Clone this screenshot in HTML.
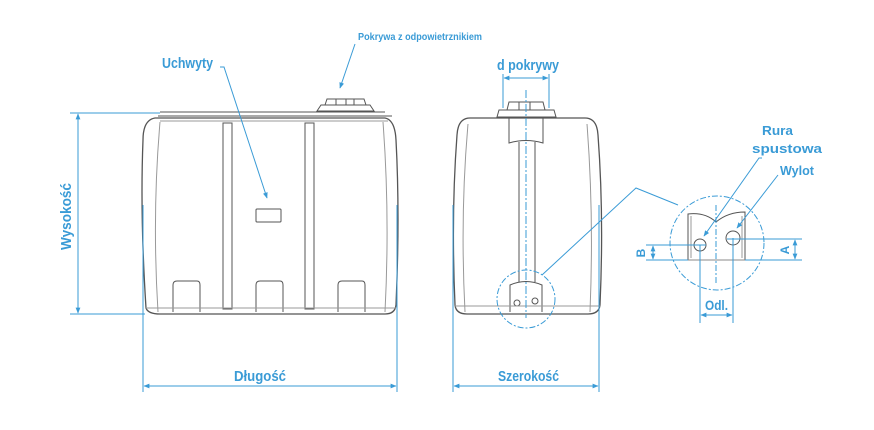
<!DOCTYPE html>
<html><head><meta charset="utf-8"><style>
html,body{margin:0;padding:0;background:#fff;}
svg{display:block;}
text{font-family:"Liberation Sans",sans-serif;font-weight:bold;fill:#3a9bd6;}
</style></head><body>
<svg width="874" height="430" viewBox="0 0 874 430" xmlns="http://www.w3.org/2000/svg">
<defs>
<marker id="a" viewBox="0 0 10 10" refX="9" refY="5" markerWidth="6" markerHeight="6" orient="auto-start-reverse"><path d="M0,1 L10,5 L0,9z" fill="#3a9bd6"/></marker>
</defs>
<g fill="none" stroke="#555" stroke-width="1">
<path d="M160,112 L385,112 M158,116 L392,116"/>
<path d="M155,118 Q143,120 143,140 Q140,215 146,308 Q148,314 160,314 L385,314 Q395,314 396,305 Q400,215 396,140 Q395,120 385,118 Z" stroke-width="1.3"/>
<path d="M160,122 Q152,215 158,312 M383,122 Q390,215 385,312" stroke="#999"/>
<path d="M160,121 L388,121" stroke="#999"/>
<rect x="223" y="123" width="9" height="186"/>
<rect x="305" y="123" width="9" height="186"/>
<rect x="256" y="209" width="25" height="13" rx="1"/>
<path d="M173,312 L173,285 Q173,281 177,281 L197,281 Q200,281 200,285 L200,312"/>
<path d="M256,312 L256,285 Q256,281 260,281 L280,281 Q283,281 283,285 L283,312"/>
<path d="M338,312 L338,285 Q338,281 342,281 L362,281 Q365,281 365,285 L365,312"/>
<path d="M145,308 L396,308" stroke="#999"/>
<path d="M317,111 L321,105 L370,105 L374,111 Z M325,105 L327,99 L364,99 L366,105 M336,99 L336,105 M346,99 L346,105 M354,99 L354,105"/>
<path d="M470,118 L585,118 Q597,118 598,135 Q604,215 600,305 Q599,314 588,314 L467,314 Q456,314 455,305 Q451,215 457,135 Q458,118 470,118 Z" stroke-width="1.3"/>
<path d="M468,124 Q460,215 465,312 M587,124 Q594,215 590,312" stroke="#999"/>
<path d="M497,117 L499,110 L554,110 L556,117 Z M507,110 L509,102 L543,102 L545,110 M519,102 L519,110 M530,102 L530,110"/>
<path d="M509,118 L509,143 Q526,138 543,143 L543,118"/>
<path d="M519,142 L519,282 M535,142 L535,282"/>
<path d="M510,312 L510,285 Q526,278 542,285 L542,312"/>
<circle cx="517" cy="303" r="3"/><circle cx="535" cy="301" r="3"/>
<path d="M455,306 L600,306" stroke="#999"/>
<path d="M688,260 L688,214 Q705,212 716,222 Q728,212 745,212 L745,260"/>
<path d="M691,216 L691,258 M742,216 L742,258" stroke="#999"/>
<path d="M670,260 L765,260" stroke="#888"/>
<circle cx="700" cy="245" r="6"/>
<circle cx="733" cy="238" r="7"/>
</g>
<g fill="none" stroke="#3a9bd6" stroke-width="1">
<path d="M70,113 L160,113 M70,314 L145,314"/>
<path d="M78,114 L78,313" marker-start="url(#a)" marker-end="url(#a)"/>
<path d="M143,205 L143,392 M397,205 L397,392"/>
<path d="M144,386 L396,386" marker-start="url(#a)" marker-end="url(#a)"/>
<path d="M453,205 L453,392 M599,205 L599,392"/>
<path d="M454,386 L598,386" marker-start="url(#a)" marker-end="url(#a)"/>
<path d="M503,74 L503,108 M549,74 L549,108"/>
<path d="M504,78 L548,78" marker-start="url(#a)" marker-end="url(#a)"/>
<path d="M526,90 L526,318" stroke-dasharray="8,2,2,2"/>
<path d="M220,67 L224,67 L267,198" marker-end="url(#a)"/>
<path d="M355,44 L340,88" marker-end="url(#a)"/>
<circle cx="526" cy="299" r="29" stroke-dasharray="6,2,2,2"/>
<path d="M542,275 L636,188 L678,205"/>
<circle cx="717" cy="243" r="47" stroke-dasharray="6,2,2,2"/>
<path d="M716,205 L716,285" stroke-dasharray="6,2,2,2"/>
<path d="M762,158 L759,158 L704,236" marker-end="url(#a)"/>
<path d="M778,175 L737,228" marker-end="url(#a)"/>
<path d="M646,245 L706,245 M646,260 L688,260"/>
<path d="M653,246 L653,259" marker-start="url(#a)" marker-end="url(#a)"/>
<path d="M727,239 L802,239 M745,260 L802,260"/>
<path d="M795,240 L795,259" marker-start="url(#a)" marker-end="url(#a)"/>
<path d="M700,245 L700,323 M733,238 L733,323"/>
<path d="M701,315 L732,315" marker-start="url(#a)" marker-end="url(#a)"/>
</g>
<text x="358" y="40" font-size="10" textLength="124" lengthAdjust="spacingAndGlyphs">Pokrywa z odpowietrznikiem</text>
<text x="162" y="68" font-size="15" textLength="51" lengthAdjust="spacingAndGlyphs">Uchwyty</text>
<text x="497" y="70" font-size="15" textLength="62" lengthAdjust="spacingAndGlyphs">d pokrywy</text>
<text x="234" y="381" font-size="15" textLength="52" lengthAdjust="spacingAndGlyphs">Długość</text>
<text x="498" y="381" font-size="15" textLength="61" lengthAdjust="spacingAndGlyphs">Szerokość</text>
<text transform="translate(71,250) rotate(-90)" font-size="15" textLength="67" lengthAdjust="spacingAndGlyphs">Wysokość</text>
<text x="762" y="135" font-size="13" textLength="31" lengthAdjust="spacingAndGlyphs">Rura</text>
<text x="752" y="153" font-size="13" textLength="70" lengthAdjust="spacingAndGlyphs">spustowa</text>
<text x="780" y="175" font-size="13" textLength="34" lengthAdjust="spacingAndGlyphs">Wylot</text>
<text x="705" y="310" font-size="14" textLength="23" lengthAdjust="spacingAndGlyphs">Odl.</text>
<text transform="translate(645,253) rotate(-90)" font-size="12" text-anchor="middle">B</text>
<text transform="translate(789,250) rotate(-90)" font-size="12" text-anchor="middle">A</text>
</svg>
</body></html>
